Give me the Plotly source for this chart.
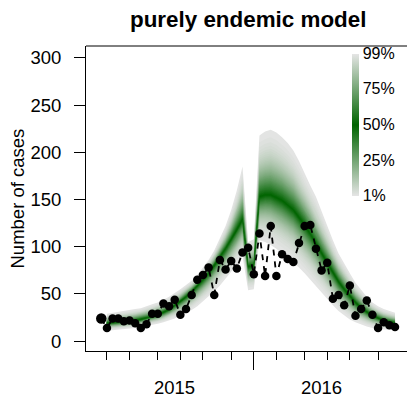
import math
import plotly.graph_objects as go

# ---------------- data ----------------
weeks = list(range(1, 54))
observed = [24, 14, 24, 24, 21, 22, 19, 14, 18, 29, 29, 40, 37, 44, 28, 34, 49, 65, 70, 78,
            49, 86, 76, 85, 77, 94, 99, 71, 114, 69, 122, 69, 92, 87, 84, 104, 122, 123, 98, 75,
            83, 45, 49, 38, 59, 27, 34, 43, 28, 14, 20, 17, 15]

fan_weeks = list(range(2, 54))
fan_q01 = [11, 11.5, 12, 12.5, 13, 14, 15, 16, 17, 18.5, 20, 22, 24, 27, 30, 33, 37, 42, 47, 53,
           59, 66, 73, 81, 90, 54, 55, 107, 105, 102, 98, 93, 89, 84, 78, 72, 65, 58, 51, 44,
           38, 32, 27, 23, 20, 17.5, 15.5, 14, 13, 12.4, 12, 11.6]
fan_q50 = [19, 19.5, 20, 20.5, 21, 22, 23, 24.5, 26, 28, 30.5, 33.5, 38, 42, 47, 52.5, 58.5, 65, 72, 80,
           89, 98, 108, 118, 129, 79, 80, 153, 155, 155, 152, 149, 144, 139, 131, 123, 114, 104, 93, 83,
           73, 63, 55, 47.5, 41, 35, 31, 27, 24.5, 22, 20.5, 19.4]
fan_q99 = [29, 30, 31, 32, 33, 34, 35, 37, 39, 41, 44, 47, 51, 55, 59, 64, 70, 78, 86, 96,
           108, 122, 139, 160, 185, 105, 108, 218, 222, 224, 221, 216, 210, 202, 191, 178, 165, 153, 137, 122,
           107, 93, 82, 72, 62, 55, 47, 41, 37, 34, 32, 30]

minor_tick_weeks = [2, 6, 11, 15, 19, 24, 32, 37, 41, 45, 50]
year_tick_weeks = [28]
year_labels = ["2015", "2016"]
year_label_weeks = [14, 40]
key_levels = [1, 25, 50, 75, 99]
key_labels = ["1%", "25%", "50%", "75%", "99%"]

# ---------------- helpers ----------------
FONT = "Liberation Sans, Arial, Helvetica, sans-serif"
DARK = (0, 100, 0)      # darkgreen
LIGHT = (229, 229, 229)  # gray90


def mix(t):
    r = [round(DARK[i] + (LIGHT[i] - DARK[i]) * t) for i in range(3)]
    return f"rgb({r[0]},{r[1]},{r[2]})"


def znorm(p):
    lo, hi = -8.0, 8.0
    for _ in range(80):
        mid = (lo + hi) / 2
        if 0.5 * (1 + math.erf(mid / math.sqrt(2))) < p:
            lo = mid
        else:
            hi = mid
    return (lo + hi) / 2


Z99 = znorm(0.99)


def quant(p):
    z = znorm(p / 100.0) / Z99
    out = []
    for a, m, b in zip(fan_q01, fan_q50, fan_q99):
        if z < 0:
            out.append(m + (m - a) * z)
        else:
            out.append(m + (b - m) * z)
    return out


fig = go.Figure()

# fan: nested polygons from outer (1%-99%) to inner (49%-51%)
for p in range(1, 50):
    lo = quant(p)
    hi = quant(100 - p)
    t = abs(p + 0.5 - 50) / 49.0
    fig.add_trace(go.Scatter(
        x=fan_weeks + fan_weeks[::-1],
        y=lo + hi[::-1],
        fill="toself", fillcolor=mix(t), mode="lines",
        line=dict(width=0), hoverinfo="skip", showlegend=False))

# observed: dashed line + dots
fig.add_trace(go.Scatter(x=weeks, y=observed, mode="lines",
                         line=dict(color="black", width=1.8, dash="6px,6px"),
                         showlegend=False, hoverinfo="skip"))
fig.add_trace(go.Scatter(x=weeks, y=observed, mode="markers", opacity=1,
                         marker=dict(color="#000000", opacity=1,
                                     size=[10.5] + [8.5] * (len(weeks) - 1),
                                     line=dict(width=0)),
                         showlegend=False))

# colour key
fig.add_trace(go.Scatter(
    x=[None], y=[None], mode="markers", showlegend=False, hoverinfo="skip",
    marker=dict(color=[50], cmin=1, cmax=99,
                colorscale=[[0, mix(1)], [0.5, mix(0)], [1, mix(1)]],
                showscale=True,
                colorbar=dict(xref="container", yref="container",
                              x=352.3 / 407, xanchor="left",
                              y=1 - 69.7 / 397, yanchor="top",
                              len=141.5, lenmode="pixels", thickness=7,
                              outlinewidth=0, xpad=0, ypad=0,
                              tickvals=key_levels, ticktext=key_labels,
                              ticks="", tickfont=dict(family=FONT, size=16, color="black")))))

W, H = 407, 397
L, R, T, B = 86, 0, 45.7, 45.5
ph = H - T - B

fig.update_layout(
    width=W, height=H,
    margin=dict(l=L, r=R, t=T, b=B, autoexpand=False),
    paper_bgcolor="white", plot_bgcolor="white",
    font=dict(family=FONT, color="black"),
    xaxis=dict(range=[-1.706, 55.12], showgrid=False, zeroline=False,
               showline=True, linecolor="black", linewidth=1,
               tickmode="array", tickvals=year_tick_weeks, ticks="outside",
               ticklen=18, tickcolor="black", tickwidth=1, showticklabels=False,
               minor=dict(tickmode="array", tickvals=minor_tick_weeks, ticks="outside",
                          ticklen=8, tickcolor="black", tickwidth=1, showgrid=False)),
    yaxis=dict(range=[-10.4, 312.7], showgrid=False, zeroline=False,
               showline=True, linecolor="black", linewidth=1,
               tickmode="array", tickvals=[0, 50, 100, 150, 200, 250, 300],
               ticks="outside", ticklen=11, tickcolor="black", tickwidth=1,
               tickfont=dict(family=FONT, size=18.5, color="black"),
               ticklabelstandoff=9),
    shapes=[dict(type="line", xref="paper", yref="paper", x0=0, x1=1, y0=1, y1=1,
                 line=dict(color="black", width=1))],
)

annotations = [
    dict(text="<b>purely endemic model</b>", xref="paper", yref="paper",
         x=(248 - L) / (W - L), y=(H - B - 19) / ph, xanchor="center", yanchor="middle",
         showarrow=False, font=dict(family=FONT, size=22.4, color="black")),
    dict(text="Number of cases", xref="paper", yref="paper",
         x=(17 - L) / (W - L), y=(H - B - 198.6) / ph, xanchor="center", yanchor="middle",
         textangle=-90, showarrow=False, font=dict(family=FONT, size=18.5, color="black")),
]
for lab, wk in zip(year_labels, year_label_weeks):
    annotations.append(dict(text=lab, xref="x", yref="paper", x=wk,
                            y=(H - B - 388) / ph, xanchor="center", yanchor="middle",
                            showarrow=False, font=dict(family=FONT, size=18.5, color="black")))
fig.update_layout(annotations=annotations)

fig.write_html("out.html")
